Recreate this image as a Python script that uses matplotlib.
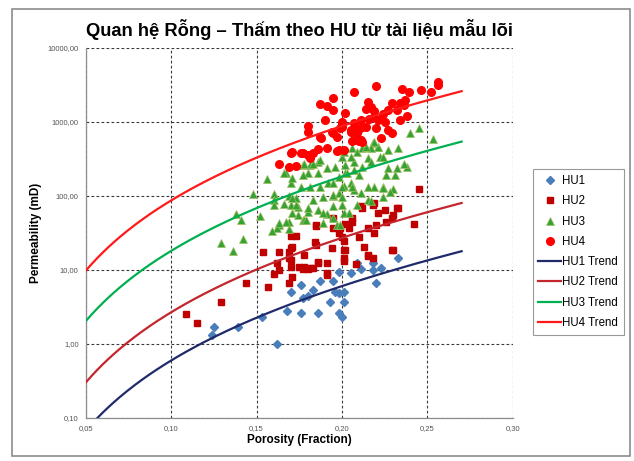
import matplotlib
matplotlib.use("Agg")
import matplotlib.pyplot as plt
import numpy as np
from matplotlib.lines import Line2D
from matplotlib.patches import Rectangle
from matplotlib.ticker import NullLocator

plt.rcParams['font.family'] = ['Liberation Sans', 'DejaVu Sans']

# core plug data: (porosity fraction, permeability mD)
hu1_points = [
    (0.125, 1.7), (0.124, 1.3), (0.139, 1.7), (0.153, 2.3), (0.162, 1.0),
    (0.170, 5.0), (0.168, 2.8), (0.176, 6.3), (0.177, 4.2), (0.180, 4.5),
    (0.176, 2.6), (0.183, 5.4), (0.187, 7.1), (0.186, 2.6), (0.193, 3.7),
    (0.195, 7.1), (0.196, 5.0), (0.198, 4.9), (0.198, 9.4), (0.201, 5.0),
    (0.201, 3.7), (0.198, 2.6), (0.200, 2.3), (0.205, 9.1), (0.209, 12.4),
    (0.211, 10.3), (0.218, 10.0), (0.218, 12.4), (0.220, 6.7), (0.223, 10.6),
    (0.233, 14.5),
]
hu2_points = [
    (0.109, 2.5), (0.115, 1.9), (0.129, 3.7), (0.144, 6.7), (0.157, 5.9),
    (0.154, 17.5), (0.163, 17.5), (0.162, 12.4), (0.160, 8.8), (0.163, 10.0),
    (0.169, 17.5), (0.171, 20.5), (0.170, 13.6), (0.171, 8.0), (0.169, 6.7),
    (0.178, 15.9), (0.175, 11.0), (0.177, 10.3), (0.180, 10.3), (0.183, 10.6),
    (0.186, 12.4), (0.191, 8.6), (0.191, 12.4), (0.194, 19.8), (0.201, 18.6),
    (0.201, 13.2), (0.208, 12.1), (0.215, 15.5), (0.218, 14.5), (0.230, 18.6),
    (0.170, 28.8), (0.173, 28.8), (0.170, 19.8), (0.169, 14.5), (0.170, 11.0),
    (0.178, 11.0), (0.181, 10.6), (0.186, 12.8), (0.184, 23.9), (0.185, 39.3),
    (0.195, 50.4), (0.195, 36.8), (0.198, 31.5), (0.200, 27.9), (0.201, 24.6),
    (0.202, 18.6), (0.201, 14.5), (0.199, 36.8), (0.204, 36.8), (0.206, 50.4),
    (0.210, 27.9), (0.213, 20.5), (0.215, 36.8), (0.215, 15.9), (0.212, 68.7),
    (0.218, 75.3), (0.220, 40.5), (0.219, 31.5), (0.225, 64.8), (0.226, 44.4),
    (0.229, 50.4), (0.230, 55.4), (0.233, 68.7), (0.229, 18.6), (0.245, 123.0),
    (0.242, 41.8), (0.219, 80.0), (0.232, 68.7), (0.221, 58.9), (0.185, 40.5),
    (0.211, 71.6), (0.206, 44.8), (0.202, 41.6), (0.185, 21.7), (0.191, 9.0),
]
hu3_points = [
    (0.129, 23.1), (0.136, 18.1), (0.142, 26.2), (0.138, 57.0), (0.141, 47.3),
    (0.148, 106), (0.156, 170), (0.152, 53.6), (0.160, 106), (0.160, 88.0),
    (0.160, 75.5), (0.167, 203), (0.170, 149), (0.163, 40.5), (0.162, 36.8),
    (0.159, 33.6), (0.169, 44.4), (0.169, 35.8), (0.163, 43.0), (0.169, 100),
    (0.166, 203), (0.177, 262), (0.181, 262), (0.186, 288), (0.180, 205),
    (0.187, 132), (0.192, 149), (0.195, 100), (0.195, 73.0), (0.191, 56.6),
    (0.186, 64.8), (0.180, 61.0), (0.174, 71.0), (0.176, 132), (0.173, 94.0),
    (0.170, 75.5), (0.174, 55.4), (0.177, 47.3), (0.183, 88.0), (0.196, 246),
    (0.198, 180), (0.200, 336), (0.201, 136), (0.202, 205), (0.197, 40.5),
    (0.187, 306), (0.183, 270), (0.178, 270), (0.186, 205), (0.191, 239),
    (0.171, 175), (0.177, 192), (0.181, 132), (0.171, 94.0), (0.166, 78.0),
    (0.173, 75.5), (0.171, 59.0), (0.167, 44.4), (0.180, 68.7), (0.189, 59.0),
    (0.178, 47.3), (0.189, 97.0), (0.195, 149), (0.195, 103), (0.198, 109),
    (0.200, 132), (0.200, 75.5), (0.201, 59.0), (0.200, 97.0), (0.205, 149),
    (0.202, 262), (0.203, 205), (0.207, 224), (0.210, 192), (0.207, 288),
    (0.205, 336), (0.201, 393), (0.206, 445), (0.209, 393), (0.212, 445),
    (0.215, 326), (0.212, 246), (0.217, 288), (0.221, 460), (0.222, 336),
    (0.218, 516), (0.227, 418), (0.232, 239), (0.226, 192), (0.224, 132),
    (0.219, 132), (0.215, 132), (0.211, 110), (0.207, 120), (0.215, 88.0),
    (0.209, 75.5), (0.204, 59.0), (0.195, 50.4), (0.189, 43.0), (0.199, 40.5),
    (0.217, 85.0), (0.245, 830), (0.253, 586), (0.240, 710), (0.238, 246),
    (0.236, 270), (0.233, 445), (0.231, 192), (0.230, 123), (0.227, 239),
    (0.224, 336), (0.224, 128), (0.224, 97.0), (0.221, 460), (0.219, 537),
    (0.217, 445), (0.214, 460), (0.212, 571), (0.228, 113), (0.206, 132),
    (0.179, 47.3),
]
hu4_points = [
    (0.195, 2110), (0.187, 1750), (0.191, 1650), (0.195, 1450), (0.190, 1065),
    (0.202, 1320), (0.200, 1000), (0.180, 880), (0.180, 733), (0.194, 733),
    (0.197, 627), (0.187, 627), (0.191, 445), (0.186, 430), (0.183, 380),
    (0.180, 358), (0.177, 380), (0.171, 393), (0.170, 380), (0.163, 270),
    (0.169, 246), (0.173, 255), (0.198, 418), (0.181, 326), (0.176, 380),
    (0.197, 405), (0.195, 710), (0.200, 970), (0.220, 3030), (0.207, 2540),
    (0.235, 2790), (0.239, 2540), (0.246, 2710), (0.252, 2540), (0.256, 3470),
    (0.256, 3160), (0.215, 1860), (0.217, 1600), (0.214, 1500), (0.219, 1410),
    (0.229, 1810), (0.234, 1810), (0.237, 1980), (0.236, 1700), (0.224, 1250),
    (0.219, 1170), (0.216, 1100), (0.211, 1065), (0.207, 970), (0.200, 855),
    (0.205, 780), (0.199, 830), (0.210, 800), (0.214, 855), (0.221, 1065),
    (0.225, 980), (0.220, 830), (0.227, 780), (0.229, 710), (0.234, 1065),
    (0.227, 1450), (0.232, 1450), (0.209, 710), (0.210, 550), (0.206, 550),
    (0.212, 537), (0.188, 610), (0.212, 855), (0.223, 610), (0.238, 1205),
    (0.201, 418), (0.207, 571), (0.211, 571), (0.208, 760), (0.205, 733),
]

hu_names = ["HU1", "HU2", "HU3", "HU4"]
hu_fzi = [0.69, 1.46, 3.79, 8.3]          # flow zone indicator per unit
trend_por_range = (0.05, 0.27)

x_ticks = [0.05, 0.10, 0.15, 0.20, 0.25, 0.30]
x_tick_labels = ["0,05", "0,10", "0,15", "0,20", "0,25", "0,30"]
y_ticks = [0.1, 1, 10, 100, 1000, 10000]
y_tick_labels = ["0,10", "1,00", "10,00", "100,00", "1000,00", "10000,00"]

marker_styles = [
    dict(marker="D", ms=4.2, color="#4A7EBB", mec="#4A7EBB"),
    dict(marker="s", ms=4.9, color="#C00000", mec="#C00000"),
    dict(marker="^", ms=6.2, color="#34A334", mec="#A4BF62", mew=0.5),
    dict(marker="o", ms=5.5, color="#FF0000", mec="#FF0000"),
]
trend_colors = ["#1F2A6B", "#C4262E", "#00B050", "#FF1A1A"]

fig = plt.figure(figsize=(6.34, 4.61), dpi=100)
ax = fig.add_axes([0.135, 0.0933, 0.674, 0.8035])

for pts, style in zip([hu1_points, hu2_points, hu3_points, hu4_points], marker_styles):
    por, perm = zip(*pts)
    ax.plot(por, perm, linestyle="none", zorder=3, **style)

# trend: k = 1014 * FZI^2 * phi^3 / (1 - phi)^2
phi = np.linspace(trend_por_range[0], trend_por_range[1], 200)
for fzi, col in zip(hu_fzi, trend_colors):
    k = 1014.0 * fzi ** 2 * phi ** 3 / (1 - phi) ** 2
    ax.plot(phi, k, color=col, lw=1.6, zorder=4)

ax.set_yscale("log")
ax.set_xlim(0.05, 0.30)
ax.set_ylim(0.1, 10000)
ax.set_xticks(x_ticks)
ax.set_xticklabels(x_tick_labels)
ax.set_yticks(y_ticks)
ax.set_yticklabels(y_tick_labels)
ax.yaxis.set_minor_locator(NullLocator())
ax.tick_params(length=0, labelsize=5.5, labelcolor="#555555", pad=5)

ax.grid(True, color="#3a3a3a", linestyle=(0, (2.5, 2)), linewidth=0.8)
ax.set_axisbelow(True)
for side in ["top", "right"]:
    ax.spines[side].set_visible(False)
for side in ["left", "bottom"]:
    ax.spines[side].set_color("#8c8c8c")
    ax.spines[side].set_linewidth(0.9)

fig.text(0.472, 0.935, "Quan hệ Rỗng – Thấm theo HU từ tài liệu mẫu lõi",
         ha="center", va="center", fontsize=13.2, fontweight="bold")
fig.text(0.056, 0.495, "Permeability (mD)", rotation=90, ha="center", va="center",
         fontsize=8.5, fontweight="bold")
fig.text(0.472, 0.046, "Porosity (Fraction)", ha="center", va="center",
         fontsize=8.5, fontweight="bold")

handles = []
for name, style in zip(hu_names, marker_styles):
    handles.append(Line2D([], [], linestyle="none", label=name, **style))
for name, col in zip(hu_names, trend_colors):
    handles.append(Line2D([], [], color=col, lw=1.6, label=name + " Trend"))
leg = ax.legend(handles=handles, loc="upper left", bbox_to_anchor=(0.840, 0.633),
                bbox_transform=fig.transFigure, borderaxespad=0, fontsize=8.3,
                frameon=True, fancybox=False, edgecolor="#808080", numpoints=1,
                handlelength=2.0, handletextpad=0.05, labelspacing=0.72,
                borderpad=0.5)
leg.get_frame().set_linewidth(0.8)

fig.patches.append(Rectangle((12 / 634, 1 - 456 / 461), 618 / 634, 447 / 461,
                             transform=fig.transFigure, fill=False,
                             edgecolor="#8c8c8c", lw=1.2))

fig.savefig("out.png", dpi=100)
